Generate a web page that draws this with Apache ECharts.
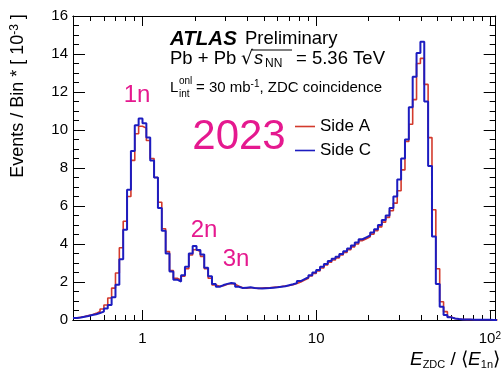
<!DOCTYPE html>
<html>
<head>
<meta charset="utf-8">
<script src="https://cdn.jsdelivr.net/npm/echarts@6/dist/echarts.min.js"></script>
<style>
  html, body { margin: 0; padding: 0; background: #fff; }
  #chart { width: 504px; height: 373px; }
</style>
</head>
<body>
<div id="chart"></div>
<script>
// log-spaced binning of the histogram
const logMin = -0.4;
const binsPerDecade = 45;

// events / bin [10^-3]
const sideA = [
  0.10, 0.14, 0.18, 0.23, 0.28, 0.35, 0.45, 0.58, 0.79, 1.16,
  1.68, 2.47, 3.80, 5.20, 6.50, 8.40, 9.80, 10.20, 10.10, 9.45,
  8.50, 7.50, 6.20, 4.80, 3.60, 2.60, 2.20, 2.10, 2.30, 2.70,
  3.42, 3.70, 3.60, 3.35, 2.70, 2.20, 1.84, 1.78, 1.80, 1.88,
  1.92, 1.88, 1.78, 1.70, 1.68, 1.70, 1.70, 1.66, 1.68, 1.70,
  1.70, 1.72, 1.74, 1.76, 1.79, 1.82, 1.86, 1.92, 2.00, 2.10,
  2.20, 2.32, 2.45, 2.58, 2.74, 2.90, 3.04, 3.16, 3.27, 3.42,
  3.55, 3.70, 3.85, 4.00, 4.18, 4.28, 4.38, 4.52, 4.70, 4.90,
  5.15, 5.40, 5.75, 6.15, 6.80, 7.90, 9.40, 10.30, 11.60, 13.50,
  13.77, 12.40, 9.60, 5.80, 2.70, 0.96, 0.44, 0.16, 0.08, 0.05,
  0.03, 0.02, 0.02, 0.01, 0.01, 0.01, 0.01, 0.01, 0.00, 0.00
];
const sideC = [
  0.10, 0.13, 0.17, 0.21, 0.26, 0.30, 0.37, 0.44, 0.60, 0.79,
  1.20, 1.85, 3.20, 4.75, 6.85, 8.90, 10.25, 10.60, 10.35, 9.60,
  8.40, 7.50, 5.90, 4.70, 3.50, 2.55, 2.12, 2.02, 2.35, 2.80,
  3.50, 3.90, 3.68, 3.45, 2.75, 2.30, 1.90, 1.75, 1.84, 1.90,
  1.95, 1.92, 1.75, 1.68, 1.70, 1.72, 1.68, 1.67, 1.66, 1.67,
  1.68, 1.70, 1.72, 1.75, 1.78, 1.83, 1.88, 1.94, 2.05, 2.15,
  2.25, 2.36, 2.50, 2.63, 2.80, 2.95, 3.10, 3.22, 3.33, 3.48,
  3.62, 3.76, 3.92, 4.08, 4.25, 4.35, 4.45, 4.60, 4.78, 5.00,
  5.26, 5.50, 5.90, 6.50, 7.40, 8.50, 9.50, 11.20, 12.80, 14.05,
  14.65, 11.50, 8.10, 4.40, 1.90, 0.70, 0.26, 0.14, 0.08, 0.05,
  0.03, 0.02, 0.02, 0.01, 0.01, 0.01, 0.01, 0.01, 0.00, 0.00
];

const xMajor = [1, 10, 100];
const xMinor = [0.4, 0.5, 0.6, 0.7, 0.8, 0.9, 2, 3, 4, 5, 6, 7, 8, 9, 20, 30, 40, 50, 60, 70, 80, 90];
const xMin = 0.398, xMax = 108;

const FONT = 'Liberation Sans, Arial, Helvetica, sans-serif';
const PINK = '#e5198f';

function steps(values) {
  const pts = values.map((v, i) => [Math.pow(10, logMin + i / binsPerDecade), v]);
  pts.push([Math.pow(10, logMin + values.length / binsPerDecade), values[values.length - 1]]);
  return pts;
}

function xAxisDef(pos, ticks, len, labels) {
  return {
    type: 'log', logBase: 10, min: xMin, max: xMax, position: pos,
    axisLine: { show: true, lineStyle: { color: '#000', width: 1 } },
    splitLine: { show: false },
    axisTick: { show: true, inside: true, length: len, customValues: ticks, lineStyle: { color: '#000' } },
    axisLabel: labels ? {
      show: true, customValues: ticks, margin: 11, color: '#000', fontSize: 15, fontFamily: FONT,
      formatter: v => v >= 100 ? '{b|10}{s|2}' : String(v),
      rich: { b: { fontSize: 15, fontFamily: FONT, color: '#000' },
              s: { fontSize: 10, fontFamily: FONT, color: '#000', verticalAlign: 'top', lineHeight: 10 } }
    } : { show: false }
  };
}

function yAxisDef(pos, labels) {
  return {
    type: 'value', min: 0, max: 16, interval: 2, position: pos,
    axisLine: { show: true, lineStyle: { color: '#000', width: 1 } },
    splitLine: { show: false },
    axisTick: { show: true, inside: true, length: 12, lineStyle: { color: '#000' } },
    minorTick: { show: true, splitNumber: 4, length: 6, lineStyle: { color: '#000' } },
    axisLabel: labels ? { show: true, margin: 5, color: '#000', fontSize: 15, fontFamily: FONT } : { show: false }
  };
}

function txt(x, y, text, size, extra) {
  return { type: 'text', x: x, y: y,
    style: Object.assign({ text: text, align: 'left', verticalAlign: 'middle',
      fontSize: size, fontFamily: FONT, fill: '#000' }, extra || {}) };
}

const chart = echarts.init(document.getElementById('chart'));
chart.setOption({
  animation: false,
  grid: { left: 73, right: 4, top: 16, bottom: 53 },
  xAxis: [
    xAxisDef('bottom', xMajor, 10, true),
    xAxisDef('bottom', xMinor, 5, false),
    xAxisDef('top', xMajor, 10, false),
    xAxisDef('top', xMinor, 5, false)
  ],
  yAxis: [yAxisDef('left', true), yAxisDef('right', false)],
  legend: {
    orient: 'vertical', left: 290, top: 113, itemWidth: 20, itemHeight: 14, itemGap: 7,
    icon: 'path://M0,0H20V1.6H0Z',
    textStyle: { fontSize: 17, fontFamily: FONT, color: '#000' },
    data: ['Side A', 'Side C']
  },
  series: [
    { name: 'Side A', type: 'line', step: 'end', symbol: 'none', data: steps(sideA),
      lineStyle: { color: '#d33a2c', width: 1.6 }, itemStyle: { color: '#d33a2c' } },
    { name: 'Side C', type: 'line', step: 'end', symbol: 'none', data: steps(sideC),
      lineStyle: { color: '#1c1cc0', width: 2 }, itemStyle: { color: '#1c1cc0' } }
  ],
  graphic: [
    { type: 'text', x: 18, y: 96, rotation: Math.PI / 2,
      style: { text: 'Events / Bin * [ 10{sup|-3} ]', align: 'center', verticalAlign: 'middle',
        fontSize: 18, fontFamily: FONT, fill: '#000',
        rich: { sup: { fontSize: 12, fontFamily: FONT, fill: '#000', verticalAlign: 'top', lineHeight: 12 } } } },
    { type: 'text', x: 500, y: 360,
      style: { text: '{i|E}{sub|ZDC}{n| / ⟨}{i|E}{sub|1n}{n|⟩}', align: 'right', verticalAlign: 'middle',
        rich: {
          i: { fontSize: 19, fontStyle: 'italic', fontFamily: FONT, fill: '#000', lineHeight: 20 },
          n: { fontSize: 19, fontFamily: FONT, fill: '#000', lineHeight: 20 },
          sub: { fontSize: 11, fontFamily: FONT, fill: '#000', verticalAlign: 'bottom', lineHeight: 12 }
        } } },
    // ATLAS label block
    txt(170, 39, 'ATLAS', 20.5, { fontStyle: 'italic', fontWeight: 'bold' }),
    txt(245, 39, 'Preliminary', 18.5),
    txt(170, 59, 'Pb + Pb', 18.5),
    txt(241, 59, '√', 19, { fontFamily: 'DejaVu Sans' }),
    txt(254, 59, 's', 18.5, { fontStyle: 'italic' }),
    txt(265, 64, 'NN', 12),
    txt(296, 59, '= 5.36 TeV', 18.5),
    { type: 'line', shape: { x1: 252, y1: 50, x2: 292, y2: 50 }, style: { stroke: '#000', lineWidth: 1 } },
    txt(170, 88, 'L', 15),
    txt(179, 81, 'onl', 10),
    txt(179, 94, 'int', 10),
    txt(196, 88, '{n|= 30 mb}{sup|-1}{n|, ZDC coincidence}', 15, {
      rich: {
        n: { fontSize: 15, fontFamily: FONT, fill: '#000', lineHeight: 18 },
        sup: { fontSize: 10, fontFamily: FONT, fill: '#000', verticalAlign: 'top', lineHeight: 10 }
      } }),
    // peak labels
    txt(137, 95, '1n', 24, { align: 'center', fill: PINK }),
    txt(239, 137, '2023', 42, { align: 'center', fill: PINK }),
    txt(204, 230, '2n', 24, { align: 'center', fill: PINK }),
    txt(236, 259, '3n', 24, { align: 'center', fill: PINK })
  ]
});
</script>
</body>
</html>
